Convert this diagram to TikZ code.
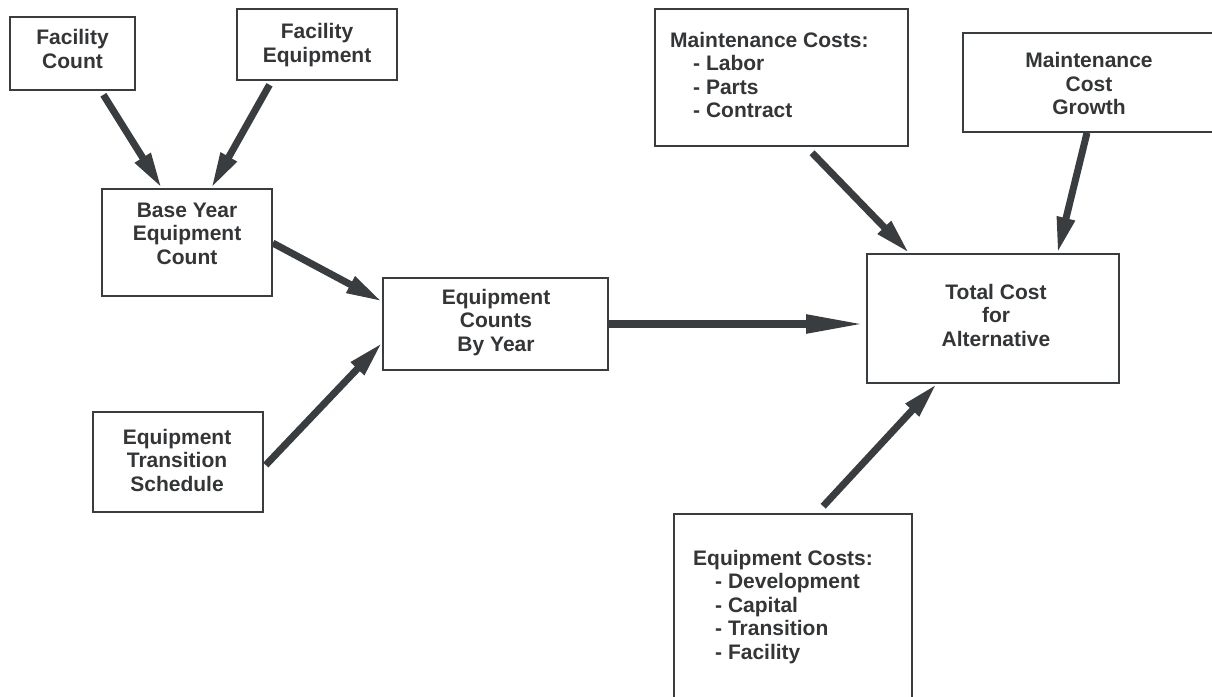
\documentclass[tikz,border=0pt]{standalone}
\usepackage{fontspec}
\setmainfont{Liberation Sans}
\usetikzlibrary{arrows.meta,calc}
\definecolor{ink}{HTML}{3A3D40}
\definecolor{txtc}{HTML}{333537}
\begin{document}
\begin{tikzpicture}[x=1pt,y=-1pt,
  box/.style={draw=ink, line width=1.6pt, rectangle, inner sep=0pt, fill=none},
  txt/.style={inner sep=0pt, align=center, text=txtc, font=\bfseries\fontsize{21}{23.5}\selectfont},
  ltxt/.style={txt, align=left, anchor=north west},
  arr/.style={draw=ink, line width=7pt, -{Triangle[length=36pt,width=17pt]}},
  mainarr/.style={draw=ink, line width=8pt, -{Triangle[length=60pt,width=17pt]}}
  ]
\clip (0,0) rectangle (1212,696);
\fill[white] (0,0) rectangle (1212,696);

% boxes
\node[box, minimum width=125pt, minimum height=73pt]  (fc)  at (72.5,53.5) {};
\node[box, minimum width=160pt, minimum height=71pt]  (fe)  at (317,44.5) {};
\node[box, minimum width=170pt, minimum height=107pt] (by)  at (187,242.5) {};
\node[box, minimum width=225pt, minimum height=92pt]  (ec)  at (495.5,324) {};
\node[box, minimum width=170pt, minimum height=100pt] (ts)  at (178,462) {};
\node[box, minimum width=253pt, minimum height=137pt] (mc)  at (781.5,77.5) {};
\node[box, minimum width=251pt, minimum height=99pt]  (mg)  at (1088.5,82.5) {};
\node[box, minimum width=252pt, minimum height=129pt] (tc)  at (993,318.5) {};
\node[box, minimum width=238pt, minimum height=188pt] (eqc) at (793,608) {};

% texts
\node[txt] (fct) at (72.5,49) {Facility\\Count};
\node[txt] (fet) at (317,45) {Facility\\Equipment};
\node[txt] (byt) at (187,233.5) {Base Year\\Equipment\\Count};
\node[txt] (ect) at (496,322.5) {Equipment\\Counts\\By Year};
\node[txt] (tst) at (177,460) {Equipment\\Transition\\Schedule};
\node[txt] (mgt) at (1089,83.5) {Maintenance\\Cost\\Growth};
\node[txt] (tct) at (996,315) {Total Cost\\for\\Alternative};
\node[ltxt] (mct) at (670,32) {Maintenance Costs:\\\hspace*{23pt}- Labor\\\hspace*{23pt}- Parts\\\hspace*{23pt}- Contract};
\node[ltxt] (eqct) at (693,550) {Equipment Costs:\\\hspace*{22pt}- Development\\\hspace*{22pt}- Capital\\\hspace*{22pt}- Transition\\\hspace*{22pt}- Facility};

% connectors
\draw[arr] ($(fc.south west)!0.744!(fc.south east)+(0,4)$) -- ($(by.north west)!0.353!(by.north east)$);
\draw[arr] ($(fe.south west)!0.206!(fe.south east)+(0,4)$) -- ($(by.north west)!0.641!(by.north east)$);
\draw[arr] ($(by.north east)!0.505!(by.south east)$) -- ($(ec.north west)!0.26!(ec.south west)$);
\draw[arr] ($(ts.north east)!0.53!(ts.south east)+(2,0)$) -- ($(ec.north west)!0.70!(ec.south west)$);
\draw[mainarr] (ec.east) -- (ec.east -| tc.west);
\draw[arr] ($(mc.south west)!0.62!(mc.south east)+(0,6)$) -- ($(tc.north west)!0.17!(tc.north east)$);
\draw[arr] ($(mg.south west)!0.494!(mg.south east)$) -- ($(tc.north west)!0.754!(tc.north east)$);
\draw[arr] ($(eqc.north west)!0.626!(eqc.north east)+(0,-7)$) -- ($(tc.south west)!0.278!(tc.south east)$);
\end{tikzpicture}
\end{document}
